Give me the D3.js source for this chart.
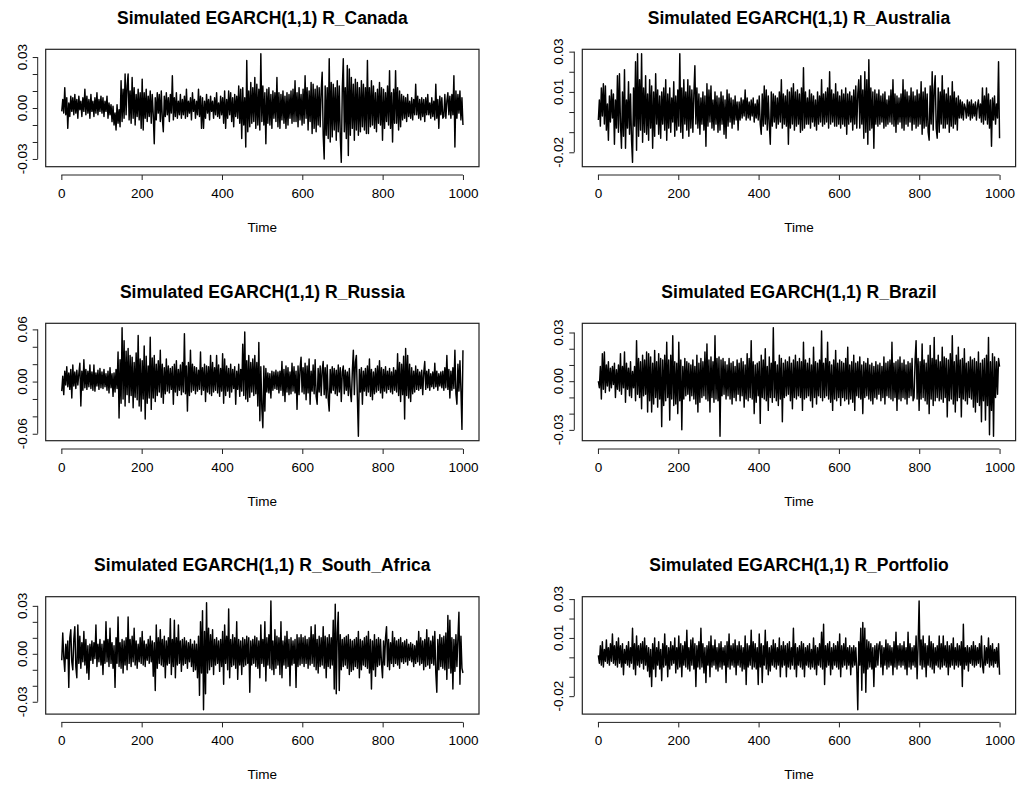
<!DOCTYPE html>
<html>
<head>
<meta charset="utf-8">
<script src="https://cdn.jsdelivr.net/npm/d3@7"></script>
<style>
  body { margin: 0; background: #fff; }
  text { font-family: "Liberation Sans", Arial, sans-serif; fill: #000; }
</style>
</head>
<body>
<div id="chart"></div>
<script>
// Simulated EGARCH(1,1) returns (one value every ~2.5 time steps)
const titles = [
    "Simulated EGARCH(1,1) R_Canada",
    "Simulated EGARCH(1,1) R_Australia",
    "Simulated EGARCH(1,1) R_Russia",
    "Simulated EGARCH(1,1) R_Brazil",
    "Simulated EGARCH(1,1) R_South_Africa",
    "Simulated EGARCH(1,1) R_Portfolio"
];

const canada = [
    -.002, .005, -.003, .012, -.004, .006, -.012, .003, -.005, .007, -.002, .006, -.004, .008, -.003, .005, -.006, .007, -.001, .004,
    -.005, .006, -.002, .011, -.004, .007, -.003, .005, -.006, .008, -.002, .004, -.005, .006, -.003, .009, -.004, .005, -.002, .007,
    -.003, .006, -.005, .004, -.002, .007, -.006, .003, -.004, .002, -.008, .001, -.010, -.003, -.013, .002, -.009, -.001, -.011, .016,
    -.008, .011, -.006, .020, -.004, .013, .020, -.007, .010, -.009, .018, -.006, .012, -.010, .008, -.005, .011, -.007, .009, -.012,
    .017, -.013, .009, -.006, .011, -.008, .007, -.005, .010, -.009, .008, -.004, -.021, .006, -.007, .009, -.003, .008, -.008, .010,
    -.006, -.014, .007, -.005, .009, -.004, .006, -.008, .008, -.003, .019, -.007, .006, -.005, .009, -.006, .004, -.004, .008, -.006,
    .005, -.004, .007, -.006, .011, -.005, .004, -.003, .006, -.007, .009, -.002, .005, -.006, .004, -.004, .011, -.005, .007, -.012,
    .006, -.012, .004, -.006, .008, -.003, .005, -.007, .007, -.002, .004, -.006, .006, -.004, .009, -.005, .003, -.006, .007, -.004,
    .006, -.009, .010, -.012, .005, -.006, .010, -.004, .009, -.008, .006, -.011, .008, -.005, .007, -.006, .013, -.009, .011, -.018,
    .012, -.010, .006, -.023, .028, -.014, .010, -.011, .015, -.009, .012, -.008, .018, -.012, .014, -.010, .011, -.013, .032, -.008,
    .013, -.010, .009, -.021, .011, -.009, .012, -.010, .008, -.012, .010, -.006, .009, -.008, .018, -.011, .009, -.012, .008, -.007,
    .010, -.009, .007, -.012, .009, -.010, .008, -.006, .010, -.009, .011, -.008, .016, -.008, .009, -.011, .012, -.007, .008, -.010,
    .011, -.009, .019, -.006, .012, -.013, .010, -.008, .015, -.015, .014, -.012, .011, -.014, .013, -.010, .012, -.011, .010, .021,
    -.016, -.030, .013, -.016, .012, -.018, .029, -.020, .015, -.017, .014, -.013, .012, -.019, .016, -.014, .013, -.017, -.032, .011,
    .029, -.014, .012, -.018, .025, -.028, .023, -.016, .018, -.012, .014, -.019, .017, -.013, .015, -.016, .012, -.014, .016, -.011,
    .014, -.013, .012, -.015, .028, -.015, .012, -.011, .016, -.010, .013, -.012, .009, -.014, .011, -.009, .015, -.010, .012, -.019,
    .011, -.012, .009, -.008, .013, -.010, .022, -.012, .009, -.020, .011, -.009, .022, -.009, .012, -.013, .010, -.011, .008, -.007,
    .007, -.006, .006, -.008, .008, -.005, .004, -.006, .006, -.007, .005, -.004, .014, -.004, .007, -.006, .005, -.007, .006, -.005,
    .005, -.008, .006, -.004, .008, -.004, .003, -.006, .006, -.005, .004, -.007, .014, -.006, .005, -.012, .007, -.004, .006, -.006,
    -.005, .008, -.006, .004, .009, -.004, .007, -.006, .008, -.004, .019, -.023, .010, -.006, .008, -.003, .010, -.007, .006, -.010
];

const australia = [
    -.004, .006, -.007, .012, -.002, .014, -.006, .013, -.009, .004, -.014, .008, -.005, .011, -.003, .009, -.016, .006, -.008, .018,
    -.010, .019, -.006, -.018, .010, -.012, .021, -.018, .006, -.008, .015, -.011, .009, -.014, -.025, .012, -.007, .025, -.019, .029,
    -.012, .016, -.009, .029, -.015, .012, -.010, .018, -.011, .009, -.014, .016, -.008, .013, -.018, .010, -.012, .019, -.006, .011,
    -.011, .008, -.013, .010, -.006, .012, -.009, .016, -.014, .009, -.008, .012, -.010, .007, -.005, .015, -.012, .008, -.009, .011,
    -.007, .029, -.010, .012, -.013, .016, -.006, .010, -.009, .016, -.012, .013, -.008, .011, -.010, .009, .023, -.006, .012, -.008,
    .009, -.011, .007, -.006, .010, -.009, .008, -.017, .014, -.007, .011, -.005, .013, -.008, .006, -.009, .010, -.006, .008, -.010,
    .007, -.009, .010, -.006, .008, -.011, .006, -.013, .011, -.007, .009, -.005, .007, -.008, .006, -.006, .008, -.004, .005, -.009,
    .005, -.004, .007, -.003, .006, -.002, .011, -.004, .007, -.003, .005, -.004, .006, -.002, .007, -.005, .004, -.003, .006, -.004,
    .008, -.006, -.011, .009, -.007, .013, -.006, .011, -.009, .008, -.006, -.016, .010, -.007, .009, -.005, .008, -.008, .007, -.006,
    .010, -.005, .016, -.008, .009, -.006, .008, -.007, .011, -.016, .010, -.008, .012, -.006, .014, -.009, .010, -.007, .011, -.006,
    .009, -.010, .012, -.009, .022, -.008, .010, -.006, .007, -.006, .011, -.008, .009, -.005, .008, -.007, .006, -.009, .010, -.006,
    .008, -.005, .016, -.007, .009, -.006, .010, -.005, .012, -.008, .020, -.006, .011, -.005, .009, -.007, .014, -.007, .010, -.006,
    .008, -.008, .011, -.006, .009, -.007, .012, -.011, .009, -.006, .010, -.005, .008, -.009, .011, -.006, .013, -.008, .009, .016,
    -.008, .018, -.006, .011, -.013, .020, -.010, .016, -.016, .026, -.009, .012, -.008, .010, -.018, .011, -.006, .009, -.007, .011,
    -.006, .008, -.005, .009, -.008, .010, -.007, .006, -.006, .008, -.005, .011, -.006, .016, -.007, .009, -.010, .008, -.006, .007,
    -.005, .009, -.008, .016, -.009, .011, -.006, .010, -.007, .008, -.005, .012, -.009, .010, -.006, .008, -.008, .011, -.007, .009,
    -.006, .015, -.011, .010, -.008, .012, -.007, .009, -.010, -.014, .013, -.006, .020, -.009, .011, .018, -.008, -.013, .012, -.010,
    .010, -.006, .018, -.008, .011, -.008, .009, -.006, .012, -.010, .008, -.007, .015, -.008, .010, -.006, .007, -.009, .008, -.003,
    .006, -.003, .005, -.004, .004, .002, -.003, .006, -.002, .005, -.004, .006, -.003, .004, -.002, .005, -.004, .003, .006, -.003,
    .004, -.005, .012, -.006, .008, -.004, .012, -.006, .009, -.008, .006, -.017, .007, -.004, .008, -.006, .004, -.003, .025, -.013
];

const russia = [
    -.011, .006, -.015, .012, -.004, .017, -.006, .010, -.009, .014, -.019, .019, -.005, .011, -.008, .013, -.004, .009, .021, -.028,
    .012, -.010, .025, -.007, .014, -.009, .012, -.006, .019, -.008, .011, -.010, .019, -.011, .010, -.005, .013, -.009, .015, -.007,
    .011, -.008, .014, -.006, .009, -.010, .012, -.013, .016, -.007, .009, -.017, .010, -.012, .014, -.008, .034, -.042, .025, -.025,
    .062, -.020, .047, -.028, .035, -.015, .038, -.024, .030, -.016, .028, -.030, .022, -.018, .033, -.021, .053, -.028, .026, -.034,
    .024, -.020, .041, -.043, .029, -.025, .018, -.019, .051, -.032, .027, -.019, .030, -.023, .020, -.016, .024, -.012, .036, -.018,
    .020, -.025, .016, -.014, .026, -.011, .018, -.013, .015, -.009, .017, -.026, .020, -.012, .024, -.016, .014, -.010, .019, -.015,
    .022, -.012, .055, -.014, .018, -.034, .022, -.016, .036, -.012, .020, -.010, .017, -.014, .016, -.011, .013, -.009, .034, -.015,
    .016, -.010, .020, -.023, .018, -.012, .017, -.014, .030, -.016, .022, -.012, .016, -.010, .030, -.013, .019, -.017, .015, -.011,
    .032, -.025, .026, -.016, .018, -.011, .015, -.018, .020, -.012, .014, -.008, .017, -.026, .012, -.009, .020, -.017, .014, -.011,
    .043, -.016, .057, -.020, .024, -.023, .030, -.018, .022, -.012, .026, -.016, .030, -.014, .022, -.028, .045, -.045, .017, -.031,
    -.053, .018, -.034, .015, -.012, .010, -.013, .009, -.019, .012, -.010, .011, -.008, .013, -.009, .011, -.013, .012, -.010, .023,
    -.016, .014, -.023, .018, -.012, .016, -.015, .011, -.014, .021, -.011, .017, -.013, .012, -.032, .018, -.015, .015, .028, -.012,
    .016, -.014, .021, -.021, .018, -.013, .026, -.026, .012, -.011, .019, -.014, .025, -.017, -.026, .015, -.012, .018, -.016, .013,
    .023, -.015, .016, -.019, .019, -.020, -.034, .014, -.013, .017, -.010, .015, -.014, .013, -.016, .019, -.012, .016, -.023, .011,
    .018, -.014, .013, -.010, .011, -.016, .015, -.012, -.023, .012, .036, -.015, .022, .030, -.018, -.063, .014, -.012, .016, -.026,
    .012, -.011, .015, -.016, .018, -.012, .026, -.017, .014, -.021, .011, -.014, .015, -.012, .018, -.010, .024, -.013, .016, -.019,
    .014, -.011, .017, -.013, .012, -.009, .015, -.012, .011, -.014, .016, -.010, .013, -.012, .032, -.016, .022, -.023, .020, -.015,
    .029, -.043, .038, -.016, .030, -.019, .020, -.023, .016, -.014, .012, -.012, .018, -.009, .014, -.010, .011, -.008, .013, -.015,
    .010, .023, -.009, .012, -.007, .014, -.010, .009, -.006, .011, -.008, .021, -.006, .012, -.010, .009, -.005, .011, -.007, .012,
    -.010, .016, -.007, .030, -.009, .014, -.019, .012, -.010, .016, -.008, .036, -.014, -.026, .020, -.011, .024, -.010, -.055, .036
];

const brazil = [
    .000, -.004, .009, -.011, .017, -.005, .018, -.007, .010, -.003, .012, -.006, .008, -.004, .009, -.002, .011, -.010, .007, -.005,
    .010, -.006, .017, -.008, .009, -.004, .018, -.013, .011, -.005, .008, -.009, .012, -.010, .006, -.004, .009, -.012, .025, -.008,
    .014, -.010, .012, -.017, .016, -.009, .013, -.008, .018, -.019, .017, -.012, .015, -.019, .011, -.014, .019, -.010, .012, -.016,
    .017, -.011, .014, -.028, .013, -.015, .016, -.012, .024, -.010, .013, -.024, .016, -.011, .028, -.015, .012, -.014, .011, -.020,
    .024, -.012, .013, -.030, .009, -.011, .014, -.009, .012, -.008, .011, -.012, .010, -.009, .013, -.011, .009, -.014, .016, -.019,
    .011, -.013, .014, -.010, .012, -.009, .018, -.011, .023, -.012, .013, -.019, .015, -.010, .012, -.013, .028, -.011, .014, -.012,
    .015, -.034, .013, -.009, .014, -.008, .012, -.011, .010, -.009, .014, -.011, .011, -.014, .012, -.010, .009, -.012, .013, -.008,
    .011, -.012, .014, -.009, .012, -.016, .010, -.011, .017, -.012, .014, -.010, .025, -.011, .012, -.020, .010, -.013, .011, -.009,
    .012, -.026, .016, -.010, .013, -.011, .020, -.012, .009, -.018, .015, -.010, .011, -.013, .033, -.010, .012, -.012, .010, -.015,
    .016, -.011, .014, -.025, .011, -.010, .013, -.009, .012, -.008, .015, -.012, .011, -.017, .013, -.010, .016, -.011, .012, -.009,
    .014, -.010, .012, -.018, .024, -.011, .013, -.010, .011, -.009, .014, -.012, .010, -.016, .021, -.010, .012, -.014, .011, -.009,
    .013, -.010, .031, -.012, .011, -.010, .014, -.009, .024, -.011, .012, -.013, .010, -.018, .013, -.011, .019, -.012, .011, -.010,
    .013, -.015, .012, -.010, .011, -.012, .014, -.011, .021, -.014, .010, -.011, .012, -.013, .016, -.018, .011, -.009, .012, -.010,
    .015, -.011, .010, -.020, .012, -.010, .011, -.009, .014, -.011, .010, -.012, .011, -.014, .009, -.010, .012, -.011, .010, -.008,
    .011, -.012, .009, -.010, .015, -.014, .011, -.009, .012, -.010, .013, -.011, .024, -.012, .011, -.010, .012, -.018, .013, -.011,
    .015, -.012, .011, -.010, .013, -.011, .010, -.014, .012, -.010, .011, -.009, .014, -.012, -.010, .013, .025, -.011, .014, -.018,
    .012, -.011, .023, -.010, .013, -.012, .011, -.014, .016, -.020, .022, -.011, .014, -.015, .027, -.012, .013, -.010, .016, -.012,
    .012, -.011, .021, -.013, .015, -.010, .014, -.022, .013, -.012, .017, -.011, .028, -.014, .012, -.019, .016, -.012, .021, -.010,
    .013, -.022, .014, -.011, .020, -.012, .011, -.014, .012, -.010, .015, -.011, .013, -.016, .014, -.019, .012, -.013, .018, -.015,
    .011, -.025, .013, -.012, .014, -.024, .016, -.015, .027, -.033, .012, -.018, .017, -.034, .015, -.010, .012, -.008, .014, .009
];

const southAfrica = [
    -.004, .013, -.002, -.011, .006, -.003, .008, -.021, .010, .015, -.005, -.010, .009, .017, -.008, -.015, .018, -.006, .011, -.009,
    .007, -.005, .014, -.007, .009, -.012, .005, -.016, .006, -.004, .008, -.006, .007, -.003, .018, -.008, .006, -.005, .009, -.007,
    .006, -.013, .008, -.006, .020, -.005, .009, -.008, .016, -.006, .007, -.009, .005, -.021, .010, -.006, .023, -.008, .007, -.009,
    .009, -.012, .008, -.007, .010, -.010, .023, -.006, .009, -.008, .011, -.005, .016, -.007, .008, -.009, .006, -.005, .010, -.006,
    .014, -.007, .008, -.008, .006, -.004, .009, -.006, .011, -.005, .008, -.014, .007, -.023, .018, -.009, .010, -.006, .015, -.007,
    .009, -.008, .011, -.015, .008, -.007, .010, -.006, .022, -.013, .009, -.008, .021, -.015, .010, -.007, .018, -.006, .008, -.011,
    .009, -.007, .010, -.006, .008, -.009, .007, -.005, .009, -.008, .006, -.011, .008, -.010, .006, -.015, .011, -.026, .020, -.012,
    .027, -.035, .014, -.025, .032, -.012, .016, -.010, .012, -.008, .015, -.013, .009, -.007, .010, -.006, .008, -.011, .009, -.008,
    .014, -.019, .018, -.006, .011, -.010, .028, -.015, .009, -.008, .012, -.007, .010, -.009, .020, -.016, .009, -.007, .008, -.013,
    .010, -.008, .009, -.007, .011, -.006, .010, -.024, .008, -.007, .009, -.006, .011, -.008, .010, -.009, .008, -.015, .018, -.006,
    .009, -.008, .020, -.017, .010, -.007, .012, -.009, .033, -.010, .008, -.013, .015, -.009, .011, -.007, .010, -.013, .020, -.015,
    .008, -.007, .011, -.009, .014, -.008, .009, -.020, .010, -.007, .008, -.006, .009, -.021, .012, -.008, .010, -.007, .012, -.006,
    .010, -.008, .011, -.006, .009, -.009, .010, -.007, .017, -.006, .012, -.008, .018, -.010, .009, -.012, .011, -.008, .010, -.007,
    .017, -.009, .011, -.015, .010, -.008, .012, -.009, .010, -.007, .021, -.022, .031, -.025, .013, .026, -.023, .012, -.010, .009,
    -.008, .010, -.007, .011, -.009, .012, -.013, .009, -.011, .008, -.010, .009, -.008, .010, -.009, .014, -.015, .009, -.010, .008,
    -.007, .010, -.008, .011, -.009, .014, -.012, .009, -.022, .008, -.010, .012, -.014, .009, -.008, .010, -.007, .009, -.006, -.015,
    .008, -.007, .010, .017, -.008, .009, -.010, .007, -.006, .014, -.008, .010, -.006, .008, -.007, .009, -.009, .010, -.005, .007,
    -.006, .008, -.005, .009, -.007, .006, -.004, .007, -.005, .006, -.008, .005, -.006, .008, -.005, .014, -.007, .010, -.006, .008,
    -.010, .009, -.008, .015, -.007, .010, -.009, .008, -.006, .011, -.007, .014, -.012, -.024, .009, -.010, .012, -.008, .010, -.009,
    .011, -.010, .013, -.016, .024, -.009, .021, -.012, .010, -.022, .009, -.011, .012, -.008, .010, .026, -.019, .011, -.009, -.012
];

const portfolio = [
    .001, -.003, .006, -.004, .008, -.005, .004, -.002, .009, -.003, .005, -.004, .007, -.002, .012, -.003, .006, -.004, .008, -.005,
    .010, -.003, .006, -.005, .007, -.009, .004, -.003, .006, -.004, .008, -.005, .005, -.003, .015, -.006, .007, -.009, .011, -.004,
    .006, -.005, .007, -.003, .008, -.006, .010, -.004, .006, -.007, .005, -.010, .004, -.015, .007, -.006, .010, -.010, .005, -.004,
    .008, -.006, .004, -.012, .007, -.005, .012, -.004, .006, -.010, .005, -.006, .008, -.004, .006, -.003, .010, -.008, .005, -.006,
    .011, -.005, .007, -.010, .006, -.004, .008, -.005, .014, -.006, .005, -.007, .009, -.004, .010, -.006, .007, -.015, .006, -.005,
    .008, -.006, .015, -.005, .007, -.008, .005, -.013, .006, -.004, .008, -.010, .011, -.005, .006, -.004, .009, -.006, .005, -.007,
    .007, -.005, .008, -.006, .005, -.004, .006, -.013, .008, -.005, .012, -.006, .006, -.004, .007, -.005, .009, -.009, .006, -.004,
    .008, -.005, .006, -.007, .005, -.006, .011, -.014, .007, -.005, .006, -.004, .014, -.006, .008, -.005, .007, -.006, .005, -.014,
    .012, -.005, .007, -.013, .006, -.004, .014, -.006, .008, -.009, .005, -.007, .006, -.004, .009, -.005, .007, -.006, .005, -.004,
    .010, -.010, .006, -.005, .008, -.004, .006, -.010, .007, -.005, .008, -.006, .005, -.004, .015, -.006, .007, -.010, .005, -.004,
    .006, -.005, .008, -.006, .007, -.010, .005, -.004, .006, -.005, .007, -.006, .004, -.005, .010, -.006, .006, -.009, .005, -.004,
    .007, -.005, .013, -.006, .017, -.014, .006, -.005, .007, -.004, .008, -.009, .005, -.006, .007, -.004, .006, -.005, .008, -.006,
    .012, -.010, .006, -.005, .007, -.004, .010, -.006, .005, -.004, .006, -.009, .005, -.005, .006, -.004, .005, -.006, -.027, .008,
    -.004, .015, -.017, .018, -.008, .015, -.018, .009, -.006, .008, -.005, .007, -.006, .005, -.015, .006, -.005, .007, -.004, .006,
    .008, -.005, .006, -.009, .005, -.004, .009, -.006, .007, -.005, .006, -.004, .005, -.009, .008, -.005, .013, -.006, .006, -.004,
    .007, -.005, .006, -.004, .008, -.006, .005, -.009, .013, -.005, .007, -.006, .005, -.004, .006, -.005, .011, -.011, .006, .029,
    -.004, .009, -.006, .011, -.005, .007, -.010, .006, -.004, .011, -.005, .008, -.006, .007, -.008, .005, -.004, .006, -.005, .011,
    -.006, .007, -.005, .011, -.004, .006, -.005, .008, -.009, .006, -.005, .007, -.004, .010, -.006, .005, -.004, .007, -.005, .006,
    -.004, .008, -.015, .017, -.006, .005, -.004, .006, -.007, .005, -.003, .006, -.004, .008, -.005, .006, -.004, .005, -.003, .007,
    -.005, .011, -.004, -.008, .006, -.004, .005, -.003, .010, -.005, .006, -.004, .007, -.005, .004, -.003, .005, -.005, .007, -.009
];

const series = [canada, australia, russia, brazil, southAfrica, portfolio];

const xTicks = [0, 200, 400, 600, 800, 1000];
const yTicks = [
    [-0.03, -0.02, -0.01, 0, 0.01, 0.02, 0.03],
    [-0.02, -0.01, 0, 0.01, 0.02, 0.03],
    [-0.06, -0.04, -0.02, 0, 0.02, 0.04, 0.06],
    [-0.03, -0.02, -0.01, 0, 0.01, 0.02, 0.03],
    [-0.03, -0.02, -0.01, 0, 0.01, 0.02, 0.03],
    [-0.02, -0.01, 0, 0.01, 0.02, 0.03]
];
// R drops labels that would overlap, only these are printed
const yLabelValues = [
    [-0.03, 0, 0.03],
    [-0.02, 0.01, 0.03],
    [-0.06, 0, 0.06],
    [-0.03, 0, 0.03],
    [-0.03, 0, 0.03],
    [-0.02, 0.01, 0.03]
];
const yLabelText = [
    ["-0.03", "0.00", "0.03"],
    ["-0.02", "0.01", "0.03"],
    ["-0.06", "0.00", "0.06"],
    ["-0.03", "0.00", "0.03"],
    ["-0.03", "0.00", "0.03"],
    ["-0.02", "0.01", "0.03"]
];

(function() {
    const width = 1020;
    const height = 786;

    const svg = d3.select("#chart")
        .append("svg")
        .attr("width", width)
        .attr("height", height);

    const colLeft = [45.7, 582.3];
    const rowTop = [49.3, 323.3, 596.7];
    const boxW = 433.3;
    const boxH = 117.4;

    series.forEach((values, i) => {
        const left = colLeft[i % 2];
        const top = rowTop[Math.floor(i / 2)];
        const bottom = top + boxH;
        const g = svg.append("g");

        const n = values.length;
        const data = values.map((v, j) => ({ t: 1 + j * 999 / (n - 1), v: v }));

        // R style 4% padding on both axes
        const xPad = 0.04 * 999;
        const x = d3.scaleLinear()
            .domain([1 - xPad, 1000 + xPad])
            .range([left, left + boxW]);
        const ext = d3.extent(values);
        const yPad = 0.04 * (ext[1] - ext[0]);
        const y = d3.scaleLinear()
            .domain([ext[0] - yPad, ext[1] + yPad])
            .range([bottom, top]);

        // the series
        const line = d3.line().x(d => x(d.t)).y(d => y(d.v));
        g.append("path")
            .datum(data)
            .attr("d", line)
            .attr("fill", "none")
            .attr("stroke", "#000")
            .attr("stroke-width", 1.45)
            .attr("stroke-linejoin", "round");

        // box
        g.append("rect")
            .attr("x", left)
            .attr("y", top)
            .attr("width", boxW)
            .attr("height", boxH)
            .attr("fill", "none")
            .attr("stroke", "#222")
            .attr("stroke-width", 1.2);

        // x axis, sits a bit below the box like in R
        const xAxisY = bottom + 8.3;
        const xAxis = g.append("g")
            .attr("transform", `translate(0,${xAxisY})`)
            .call(d3.axisBottom(x).tickValues(xTicks).tickSize(5).tickPadding(8.5).tickFormat(d3.format("d")));
        xAxis.select(".domain").remove();
        xAxis.selectAll("line").attr("stroke", "#222");
        xAxis.selectAll("text").attr("font-size", 13.5).attr("font-family", "Liberation Sans, Arial, sans-serif");
        xAxis.append("line")
            .attr("x1", x(xTicks[0]))
            .attr("x2", x(xTicks[xTicks.length - 1]))
            .attr("stroke", "#222");

        // y axis
        const yAxisX = left - 8;
        const yt = yTicks[i];
        const yAxis = g.append("g")
            .attr("transform", `translate(${yAxisX},0)`)
            .call(d3.axisLeft(y).tickValues(yt).tickSize(5).tickFormat(""));
        yAxis.select(".domain").remove();
        yAxis.selectAll("line").attr("stroke", "#222");
        yAxis.append("line")
            .attr("y1", y(yt[0]))
            .attr("y2", y(yt[yt.length - 1]))
            .attr("stroke", "#222");

        yLabelValues[i].forEach((val, j) => {
            g.append("text")
                .attr("transform", `translate(${left - 23.7},${y(val)}) rotate(-90)`)
                .attr("text-anchor", "middle")
                .attr("dy", "0.35em")
                .attr("font-size", 13.5)
                .text(yLabelText[i][j]);
        });

        // title and x label
        g.append("text")
            .attr("x", left + boxW / 2)
            .attr("y", top - 25.5)
            .attr("text-anchor", "middle")
            .attr("font-size", 17.5)
            .attr("font-weight", "bold")
            .text(titles[i]);

        g.append("text")
            .attr("x", left + boxW / 2)
            .attr("y", bottom + 65)
            .attr("text-anchor", "middle")
            .attr("font-size", 13.5)
            .text("Time");
    });
})();
</script>
</body>
</html>
